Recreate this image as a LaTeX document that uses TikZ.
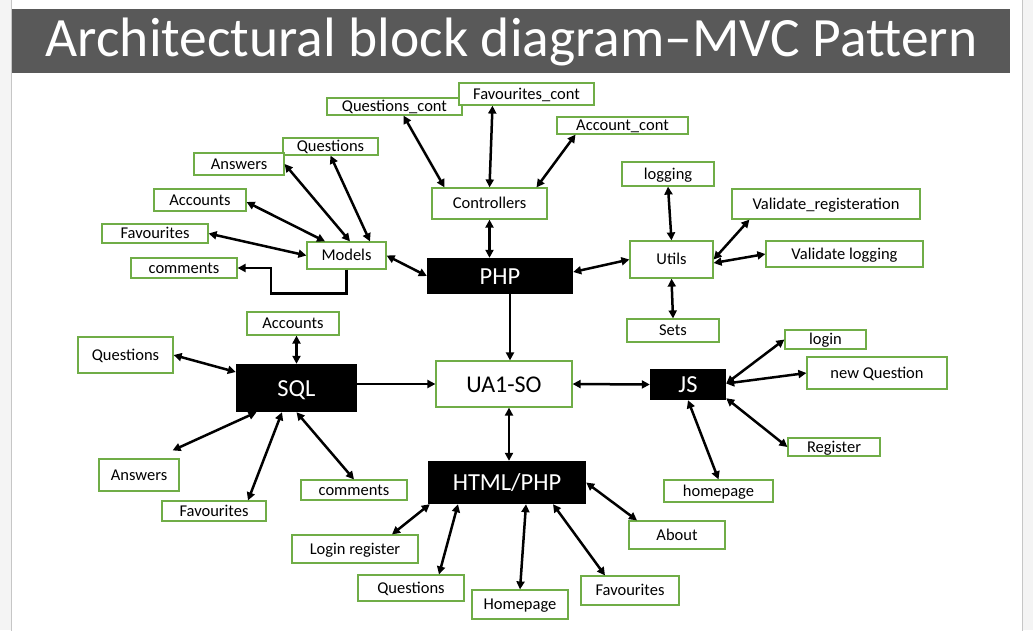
\documentclass[tikz,border=0pt]{standalone}
\usepackage{fontspec}
\setmainfont{Carlito}
\usetikzlibrary{arrows.meta}
\definecolor{boxgreen}{HTML}{70AD47}
\definecolor{barGray}{HTML}{595959}
\tikzset{
  box/.style={draw=boxgreen,line width=1.2pt,fill=white,inner sep=0pt,
    text height=13.5pt,text depth=3pt,font=\fontsize{16.5}{18}\selectfont},
  blk/.style={fill=black,text=white,inner sep=0pt,
    text height=19pt,text depth=2.5pt,font=\fontsize{24.5}{26}\selectfont},
  link/.style={line width=2.5pt,>={Triangle[length=8pt,width=8pt]}}
}
\begin{document}
\begin{tikzpicture}[x=1pt,y=-1pt]
	\useasboundingbox (0,0) rectangle (1033,630);
	% slide
	\fill[gray!9] (0,0) rectangle (1033,630);
	\draw[gray!45,fill=white,line width=1pt] (11.5,-2) rectangle (1022.5,632);
	\fill[barGray] (12,9) rectangle (1010,73);
	\node[anchor=base,text=white,font=\fontsize{55.5}{58}\selectfont] (title) at (511.5,56) {Architectural block diagram–MVC Pattern};
	% centre
	\node[blk,minimum width=146pt,minimum height=36pt] (php) at (500,276) {PHP};
	\node[blk,minimum width=121pt,minimum height=48pt] (sql) at (296.5,388) {SQL};
	\node[blk,minimum width=76pt,minimum height=31pt] (js) at (688,384.5) {JS};
	\node[blk,minimum width=158pt,minimum height=43pt] (html) at (507,482.5) {HTML/PHP};
	\node[box,minimum width=136pt,minimum height=46pt,font=\fontsize{24}{26}\selectfont,text height=19pt,text depth=2.5pt] (ua) at (504,384) {UA1-SO};
	% controllers
	\node[box,minimum width=115pt,minimum height=31pt] (ctrl) at (489.5,203.5) {Controllers};
	\node[box,minimum width=135pt,minimum height=17pt] (qcont) at (394.5,106.5) {Questions\_cont};
	\node[box,minimum width=135pt,minimum height=22pt] (fcont) at (526.5,94) {Favourites\_cont};
	\node[box,minimum width=131pt,minimum height=17pt] (acont) at (622.5,125.5) {Account\_cont};
	% models
	\node[box,minimum width=79pt,minimum height=27pt] (models) at (346.5,255.5) {Models};
	\node[box,minimum width=95pt,minimum height=17pt] (mquest) at (330.5,146.5) {Questions};
	\node[box,minimum width=90pt,minimum height=22pt] (manswers) at (239,164) {Answers};
	\node[box,minimum width=92pt,minimum height=22pt] (maccounts) at (200,200) {Accounts};
	\node[box,minimum width=106pt,minimum height=19pt] (mfav) at (155,233.5) {Favourites};
	\node[box,minimum width=106pt,minimum height=20pt] (mcomments) at (184,268) {comments};
	% utils
	\node[box,minimum width=83pt,minimum height=37pt] (utils) at (671.5,259.5) {Utils};
	\node[box,minimum width=92pt,minimum height=24pt] (logging) at (668,174) {logging};
	\node[box,minimum width=188pt,minimum height=30pt] (vreg) at (826,204) {Validate\_registeration};
	\node[box,minimum width=157pt,minimum height=26pt] (vlog) at (844.5,254) {Validate logging};
	\node[box,minimum width=92pt,minimum height=23pt] (sets) at (673,330.5) {Sets};
	% sql
	\node[box,minimum width=92pt,minimum height=23pt] (saccounts) at (293,323.5) {Accounts};
	\node[box,minimum width=95pt,minimum height=36pt] (squest) at (125.5,355) {Questions};
	\node[box,minimum width=80pt,minimum height=32pt] (sanswers) at (139,475) {Answers};
	\node[box,minimum width=104pt,minimum height=20pt] (sfav) at (214,511) {Favourites};
	\node[box,minimum width=106pt,minimum height=20pt] (scomments) at (354,490) {comments};
	% js
	\node[box,minimum width=81pt,minimum height=19pt] (jlogin) at (825.5,339.5) {login};
	\node[box,minimum width=140pt,minimum height=32pt] (jnewq) at (877,373) {new Question};
	\node[box,minimum width=92pt,minimum height=18pt] (jreg) at (834,447) {Register};
	\node[box,minimum width=109pt,minimum height=22pt] (jhome) at (718.5,491) {homepage};
	% html
	\node[box,minimum width=96pt,minimum height=28pt] (habout) at (677,535) {About};
	\node[box,minimum width=126pt,minimum height=28pt] (hlogin) at (355,549) {Login register};
	\node[box,minimum width=106pt,minimum height=26pt] (hquest) at (411,588) {Questions};
	\node[box,minimum width=96pt,minimum height=29pt] (hhome) at (520,604.5) {Homepage};
	\node[box,minimum width=98pt,minimum height=29pt] (hfav) at (630,590.5) {Favourites};
	% links
	\begin{scope}[link]
		\draw[<->] ([xshift=-45pt]ctrl.north) -- ([xshift=9pt]qcont.south);
		\draw[<->] (ctrl.north) -- ([xshift=-34pt]fcont.south);
		\draw[<->] ([xshift=47pt]ctrl.north) -- ([xshift=-47pt]acont.south);
		\draw[<->] (ctrl.south) -- (ctrl.south |- php.north);
		\draw[<->] ([yshift=4pt]php.east) -- (utils.west);
		\draw[<->] (models.east) -- (php.west);
		\draw[<->] ([xshift=23.5pt]models.north) -- (mquest.south);
		\draw[<->] ([xshift=3.5pt]models.north) -- (manswers.east);
		\draw[<->] ([xshift=-21.5pt]models.north) -- ([yshift=-2pt]maccounts.east);
		\draw[<->] (models.west) -- (mfav.east);
		\draw[->] (models.south) -- ++(0,24) -- ++(-75.5,0) |- (mcomments.east);
		\draw[->] ([xshift=10pt]php.south) -- ([xshift=6pt]ua.north);
		\draw[<->] (utils.north) -- (logging.south);
		\draw[<->] (utils.east) -- ([xshift=18pt]vreg.south west);
		\draw[<->] ([yshift=-3.5pt]utils.east) -- (vlog.west);
		\draw[<->] (utils.south) -- (sets.north);
		\draw[<->] (sql.north) -- (sql.north |- saccounts.south);
		\draw[<->] ([yshift=16pt]sql.west) -- (squest.east);
		\draw[->] ([yshift=4pt]sql.east) -- (ua.west);
		\draw[<->] ([xshift=-40pt]sql.south) -- ([xshift=-7pt,yshift=8pt]sanswers.north east);
		\draw[<->] ([xshift=-14.5pt]sql.south) -- ([xshift=34pt]sfav.north);
		\draw[<->] (sql.south) -- (scomments.north);
		\draw[<->] (ua.east) -- (js.west);
		\draw[<->] ([xshift=5pt]ua.south) -- ([xshift=2pt]html.north);
		\draw[<->] ([yshift=1pt]js.east) -- (jlogin.west);
		\draw[<->] ([yshift=1pt]js.east) -- (jnewq.west);
		\draw[<->] ([yshift=2pt]js.south east) -- (jreg.west);
		\draw[<->] (js.south) -- (jhome.north);
		\draw[<->] ([xshift=2pt]html.south west) -- ([xshift=37pt]hlogin.north);
		\draw[<->] ([xshift=-49pt]html.south) -- ([xshift=28pt]hquest.north);
		\draw[<->] ([xshift=19pt]html.south) -- (hhome.north);
		\draw[<->] ([xshift=46pt]html.south) -- ([xshift=-25pt]hfav.north);
		\draw[<->] (html.east) -- ([xshift=-40pt]habout.north);
	\end{scope}
\end{tikzpicture}
\end{document}
